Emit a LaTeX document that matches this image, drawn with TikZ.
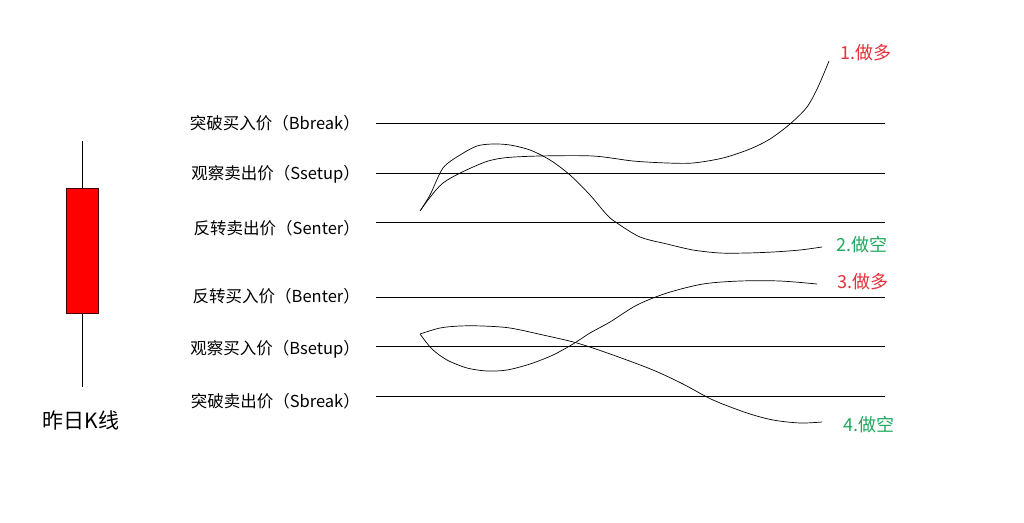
\documentclass[tikz,border=0pt]{standalone}
\usepackage{fontspec}
\newfontfamily\cjk{Noto Sans CJK SC}
\usetikzlibrary{positioning}
\definecolor{bodyColor}{HTML}{FF0000}
\definecolor{longColor}{HTML}{E8303A}
\definecolor{shortColor}{HTML}{1FA85E}

\begin{document}
\begin{tikzpicture}[
    x=1pt, y=-1pt,
    % Text Styles
    levelLabel/.style={
        font=\cjk\fontsize{16.5}{18}\selectfont,
        anchor=east,
        inner sep=0pt
    },
    tradeLabel/.style={
        font=\cjk\fontsize{18}{20}\selectfont,
        inner sep=0pt
    },
    % Line Styles
    level/.style={
        black,
        line width=0.8pt
    },
    path/.style={
        black,
        line width=0.7pt,
        line join=round
    }
]
    \useasboundingbox (0,0) rectangle (1024,522);

    % --- YESTERDAY'S CANDLE ---
    \coordinate (wickTop) at (82,141);
    \coordinate (wickBot) at (82,387);
    \draw[black, line width=0.8pt] (wickTop) -- (wickBot);
    \node[draw=black!75!red, fill=bodyColor, line width=0.8pt,
          minimum width=32pt, minimum height=125pt, inner sep=0pt]
          (body) at (82,250.5) {};
    \node[tradeLabel, font=\cjk\fontsize{21}{23}\selectfont] (kLabel) at (81,420) {昨日K线};

    % --- PRICE LEVELS ---
    \node[levelLabel] (bBreak) at (360,123) {突破买入价（Bbreak）};
    \node[levelLabel] (sSetup) at (360,174) {观察卖出价（Ssetup）};
    \node[levelLabel] (sEnter) at (360,228) {反转卖出价（Senter）};
    \node[levelLabel] (bEnter) at (360,296) {反转买入价（Benter）};
    \node[levelLabel] (bSetup) at (360,349) {观察买入价（Bsetup）};
    \node[levelLabel] (sBreak) at (360,401) {突破卖出价（Sbreak）};

    \draw[level] (376,123) -- (885,123);
    \draw[level] (376,173) -- (885,173);
    \draw[level] (376,222) -- (885,222);
    \draw[level] (376,297) -- (885,297);
    \draw[level] (376,346) -- (885,346);
    \draw[level] (376,396) -- (885,396);

    % --- UPPER CASES (1 and 2) ---
    \coordinate (upStart) at (420,211);
    \draw[path] plot[smooth, tension=0.5] coordinates {
        (420,211) (443,183) (480,164) (503,158) (540,156) (593,156)
        (633,161) (667,163) (693,163) (723,158) (750,149) (770,139)
        (790,124) (807,107) (818,87) (829,61)};
    \draw[path] plot[smooth, tension=0.5] coordinates {
        (420,211) (430,195) (443,168) (460,155) (477,146) (493,144)
        (510,145) (530,150) (550,160) (570,175) (590,195) (607,215)
        (617,223) (640,237) (667,244) (693,250) (720,253) (747,253)
        (773,252) (800,250) (822,247)};
    \node[tradeLabel, text=longColor] (caseOne) at (866,53) {1.做多};
    \node[tradeLabel, text=shortColor] (caseTwo) at (862,245) {2.做空};

    % --- LOWER CASES (3 and 4) ---
    \coordinate (downStart) at (420,334);
    \draw[path] plot[smooth, tension=0.5] coordinates {
        (420,334) (432,349) (447,360) (467,368) (487,371) (507,370)
        (530,364) (553,355) (573,344) (590,333) (610,322) (637,305)
        (667,293) (703,284) (740,281) (780,281) (817,284)};
    \draw[path] plot[smooth, tension=0.5] coordinates {
        (420,334) (440,328) (460,326) (483,326) (510,328) (543,335)
        (577,343) (613,355) (653,370) (683,384) (713,400) (747,413)
        (773,420) (800,423) (822,422)};
    \node[tradeLabel, text=longColor] (caseThree) at (863,282) {3.做多};
    \node[tradeLabel, text=shortColor] (caseFour) at (869,425) {4.做空};

\end{tikzpicture}
\end{document}
